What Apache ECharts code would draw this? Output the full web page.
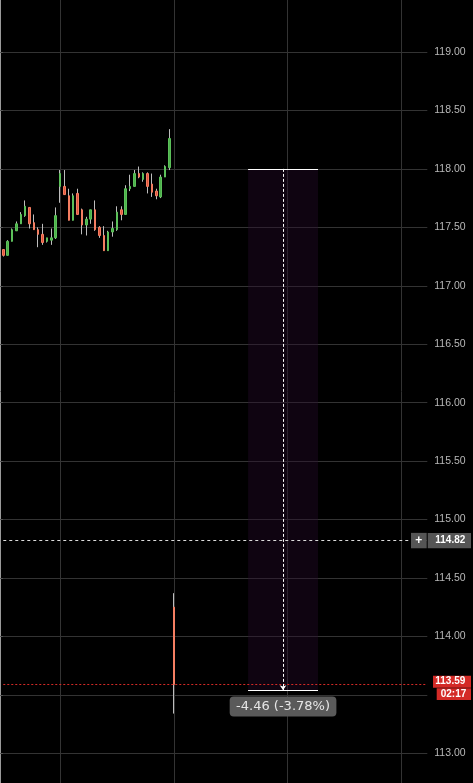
<!DOCTYPE html>
<html><head><meta charset="utf-8">
<script src="https://cdn.jsdelivr.net/npm/echarts@6/dist/echarts.min.js"></script>
<style>html,body{margin:0;padding:0;background:#000;}#c{width:473px;height:783px;}</style>
</head><body><div id="c"></div>
<script>
// ---- data ----
const opens  = [117.31,117.26,117.38,117.47,117.53,117.60,117.67,117.54,117.48,117.44,117.38,117.39,117.41,117.85,117.85,117.77,117.56,117.79,117.65,117.52,117.57,117.65,117.50,117.43,117.30,117.46,117.48,117.65,117.61,117.83,117.85,117.96,117.91,117.96,117.87,117.81,117.76,117.93,118.01,114.25];
const closes = [117.26,117.38,117.48,117.53,117.61,117.68,117.53,117.48,117.44,117.37,117.41,117.41,117.60,117.96,117.78,117.56,117.77,117.61,117.52,117.57,117.65,117.48,117.43,117.30,117.46,117.49,117.63,117.61,117.83,117.85,117.96,117.93,117.96,117.85,117.80,117.77,117.93,118.02,118.26,113.59];
const lows   = [117.25,117.26,117.38,117.47,117.53,117.59,117.49,117.48,117.33,117.35,117.37,117.35,117.40,117.71,117.78,117.56,117.56,117.61,117.44,117.43,117.53,117.47,117.41,117.30,117.30,117.42,117.47,117.56,117.61,117.81,117.85,117.92,117.89,117.79,117.76,117.74,117.75,117.93,117.99,113.34];
const highs  = [117.31,117.39,117.49,117.55,117.63,117.73,117.67,117.61,117.50,117.53,117.41,117.49,117.67,117.99,117.99,117.83,117.79,117.83,117.66,117.59,117.65,117.73,117.51,117.51,117.47,117.55,117.68,117.68,117.86,117.95,117.99,118.02,117.97,117.97,117.96,117.83,117.95,118.03,118.34,114.37];
const slotCount = 98;
const categories = Array.from({length: slotCount}, (_, i) => String(i));
const gridLineIndices = [13, 39, 65, 91];
const yMin = 112.5, yMax = 119.5, yStep = 0.5;
const crossPrice = 114.82;
const lastPrice = 113.59;
const countdown = '02:17';
const measureFrom = 56, measureTo = 72, measureMid = 64;
const measureTop = 118.00, measureBottom = 113.54;
const measureText = '-4.46 (-3.78%)';

const wickData = opens.map((o, i) => [o, closes[i], lows[i], highs[i]]);
const bodyData = opens.map((o, i) => [o, closes[i], Math.min(o, closes[i]), Math.max(o, closes[i])]);

const GRID_COLOR = '#333333';
const chart = echarts.init(document.getElementById('c'), null, {renderer: 'canvas'});
const gridBox = {right: 45.7, top: -6.45, bottom: -28.75, containLabel: false, outerBoundsMode: 'none'};

chart.setOption({
  backgroundColor: '#000',
  animation: false,
  grid: [
    Object.assign({left: 3.27}, gridBox),
    Object.assign({left: 0}, gridBox)
  ],
  xAxis: [
    {type: 'category', gridIndex: 0, data: categories, boundaryGap: false,
     axisLine: {show: false}, axisTick: {show: false}, axisLabel: {show: false},
     splitLine: {show: true, interval: (i) => gridLineIndices.includes(i), lineStyle: {color: GRID_COLOR, width: 1}}},
    {type: 'value', gridIndex: 1, min: 0, max: 1, show: false}
  ],
  yAxis: [
    {type: 'value', gridIndex: 0, min: yMin, max: yMax, interval: yStep, show: false, splitLine: {show: false}},
    {type: 'value', gridIndex: 1, position: 'right', min: yMin, max: yMax, interval: yStep,
     axisLine: {show: true, lineStyle: {color: '#9a9a9a', width: 1}},
     axisTick: {show: true, length: 3, lineStyle: {color: '#555'}},
     axisLabel: {color: '#b8b8b8', fontSize: 10.5, fontFamily: 'Liberation Sans, Arial, sans-serif', margin: 7,
       formatter: (v) => Math.abs(v - lastPrice) < 0.12 ? '' : v.toFixed(2)},
     splitLine: {show: true, lineStyle: {color: GRID_COLOR, width: 1}}}
  ],
  series: [
    {type: 'candlestick', name: 'wick', xAxisIndex: 0, yAxisIndex: 0, data: wickData, barWidth: 0, silent: true, z: 2,
     itemStyle: {color: '#bdbdbd', color0: '#bdbdbd', borderColor: '#bdbdbd', borderColor0: '#bdbdbd', borderWidth: 1}},
    {type: 'candlestick', name: 'body', xAxisIndex: 0, yAxisIndex: 0, data: bodyData, barWidth: 2, z: 3,
     itemStyle: {color: '#4cb04a', color0: '#e0563b', borderColor: '#5cc05a', borderColor0: '#f47e62', borderWidth: 1},
     markArea: {silent: true, itemStyle: {color: 'rgba(40,10,45,0.38)'},
       data: [[{coord: [measureFrom, measureTop]}, {coord: [measureTo, measureBottom]}]]},
     markLine: {silent: true, symbol: ['none', 'none'], label: {show: false}, animation: false,
       data: [
         {yAxis: crossPrice, lineStyle: {color: '#dcdcdc', type: [3, 3], width: 1}},
         {yAxis: lastPrice, lineStyle: {color: '#d42a26', type: [2, 2], width: 1}},
         [{coord: [measureFrom, measureTop], lineStyle: {color: '#ffffff', type: 'solid', width: 1}}, {coord: [measureTo, measureTop]}],
         [{coord: [measureFrom, measureBottom], lineStyle: {color: '#ffffff', type: 'solid', width: 1}}, {coord: [measureTo, measureBottom]}],
         [{coord: [measureMid, measureTop], symbol: 'none', lineStyle: {color: '#ffffff', type: [3, 2], width: 1}},
          {coord: [measureMid, measureBottom], symbol: 'arrow', symbolSize: [5, 5]}]
       ]}}
  ]
});

const yCross = chart.convertToPixel({yAxisIndex: 1}, crossPrice);
const yLast = chart.convertToPixel({yAxisIndex: 1}, lastPrice);
const yMeas = chart.convertToPixel({yAxisIndex: 0}, measureBottom);
const xMid = chart.convertToPixel({xAxisIndex: 0}, categories[measureMid]);
const tagFont = 'bold 10px "Liberation Sans", Arial, sans-serif';
function txt(x, y, s, font, fill, align) {
  return {type: 'text', z: 101, x: x, y: y,
    style: {text: s, font: font, fill: fill, align: align || 'left', textAlign: align || 'left', verticalAlign: 'middle', textVerticalAlign: 'middle'}};
}
chart.setOption({
  graphic: [
    {type: 'rect', z: 100, shape: {x: 411, y: yCross - 7.7, width: 15.7, height: 15.4}, style: {fill: '#555'}},
    txt(418.85, yCross, '+', 'bold 12px "Liberation Sans", Arial, sans-serif', '#ffffff', 'center'),
    {type: 'rect', z: 100, shape: {x: 427.7, y: yCross - 7.7, width: 43.3, height: 15.4}, style: {fill: '#555'}},
    txt(435.3, yCross, crossPrice.toFixed(2), tagFont, '#ffffff'),
    {type: 'rect', z: 100, shape: {x: 433, y: yLast - 8.7, width: 38, height: 12}, style: {fill: '#d42a26'}},
    txt(435.3, yLast - 2.7, lastPrice.toFixed(2), tagFont, '#ffffff'),
    {type: 'rect', z: 100, shape: {x: 436.7, y: yLast + 3.9, width: 34.3, height: 11.7}, style: {fill: '#d42a26'}},
    txt(440.7, yLast + 9.75, countdown, tagFont, '#ffffff'),
    {type: 'rect', z: 100, shape: {x: xMid - 53.35, y: yMeas + 6.4, width: 106.7, height: 20, r: 4}, style: {fill: '#5a5a5a'}},
    txt(xMid, yMeas + 16.4, measureText, '13px "DejaVu Sans", sans-serif', '#e6e6e6', 'center')
  ]
});
</script>
</body></html>
